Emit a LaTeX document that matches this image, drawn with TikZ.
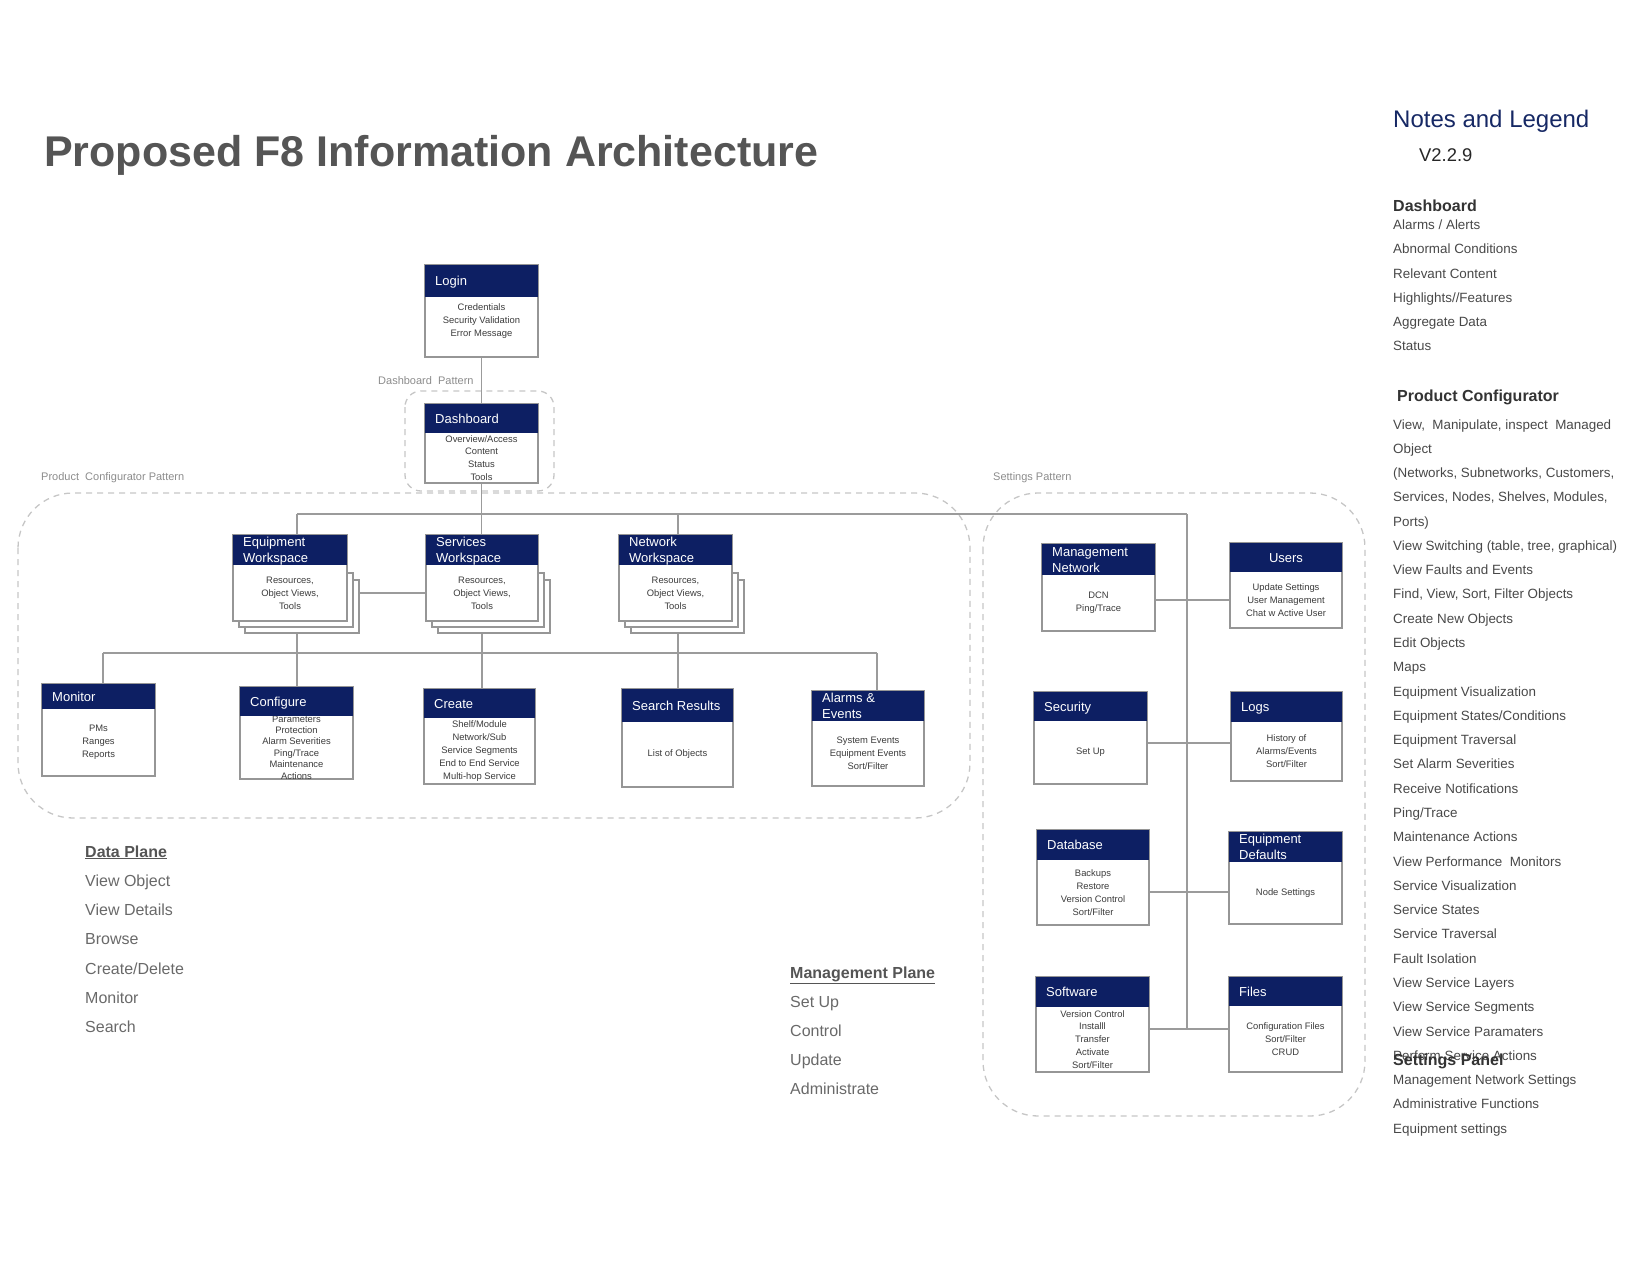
\documentclass[tikz,border=0pt]{standalone}
\usepackage{fontspec}
\setmainfont{Liberation Sans}
\usetikzlibrary{backgrounds}

\definecolor{navy}{RGB}{13,31,99}
\definecolor{boxgray}{RGB}{150,150,150}
\definecolor{conngray}{RGB}{155,155,155}
\definecolor{dashgray}{RGB}{198,198,198}
\definecolor{bodygray}{RGB}{60,60,60}
\definecolor{titlegray}{RGB}{85,85,85}
\definecolor{leggray}{RGB}{72,72,72}
\definecolor{planegray}{RGB}{105,105,105}
\definecolor{labelgray}{RGB}{140,140,140}
\definecolor{legblue}{RGB}{22,40,100}

\tikzset{
  cardframe/.style={draw=boxgray, line width=1.1pt, fill=white, inner sep=0pt, outer sep=0pt},
  headtext/.style={text=white, font=\fontsize{13}{16}\selectfont, inner sep=0pt, anchor=base west},
  bodybase/.style={text=bodygray, font=\fontsize{9.4}{12.9}\selectfont, align=center, inner sep=0pt},
  bodytext/.style={bodybase},
  conn/.style={draw=conngray, line width=1.1pt},
  patternframe/.style={draw=dashgray, line width=1.3pt, dash pattern=on 6pt off 5pt},
  patternlabel/.style={text=labelgray, font=\fontsize{11}{13}\selectfont, inner sep=0pt, anchor=base west},
  legitem/.style={text=leggray, font=\fontsize{13.4}{16}\selectfont, inner sep=0pt, anchor=base west},
  leghead/.style={text=black!80, font=\fontsize{16}{19}\bfseries\selectfont, inner sep=0pt, anchor=base west},
  planeitem/.style={text=planegray, font=\fontsize{16}{19}\selectfont, inner sep=0pt, anchor=base west},
  planehead/.style={text=titlegray, font=\fontsize{16}{19}\bfseries\selectfont, inner sep=0pt, anchor=base west},
}

% card: #1 name, #2 left, #3 top, #4 right, #5 header bottom, #6 bottom,
%       #7 first header line, #8 second header line, #9 body lines
\newcommand\card[9]{%
  \node[cardframe, minimum width={(#4)-(#2)}, minimum height={(#6)-(#3)}]
    (#1) at ({((#2)+(#4))/2},{((#3)+(#6))/2}) {};
  \node[bodytext] (#1-body) at ({((#2)+(#4))/2},{((#5)+(#6))/2}) {#9};
  \fill[navy] (#2,#3) rectangle (#4,#5);
  \ifx\relax#7\relax\else
    \ifx\relax#8\relax
      \node[headtext] (#1-t1) at ({(#2)+10},{((#3)+(#5))/2+4.6}) {#7};
    \else
      \node[headtext] (#1-t1) at ({(#2)+10},{((#3)+(#5))/2-3.4}) {#7};
      \node[headtext] (#1-t2) at ({(#2)+10},{((#3)+(#5))/2+12.6}) {#8};
    \fi
  \fi
}

% stacked sheets behind a workspace card: left, header bottom, right, bottom
\newcommand\sheets[4]{%
  \draw[cardframe] ({(#1)+12},{(#2)+15}) rectangle ({(#3)+12},{(#4)+12});
  \draw[cardframe] ({(#1)+6},{(#2)+8}) rectangle ({(#3)+6},{(#4)+6});
}

\begin{document}
\begin{tikzpicture}[x=1pt, y=-1pt]
\useasboundingbox (0,0) rectangle (1650,1275);

% ---------- title ----------
\node[text=titlegray, font=\fontsize{43}{50}\bfseries\selectfont, inner sep=0pt, anchor=base west]
  (title) at (44,166) {Proposed F8 Information Architecture};

% ---------- pattern labels ----------
\node[patternlabel] (lbl-dash) at (378,384) {Dashboard\ \ Pattern};
\node[patternlabel] (lbl-prod) at (41,480) {Product\ \ Configurator Pattern};
\node[patternlabel] (lbl-set) at (993,480) {Settings Pattern};

% ---------- cards ----------
\tikzset{bodytext/.style={bodybase, yshift=6pt}}
\card{login}{425}{265}{538}{297}{357}{Login}{}{Credentials\\Security Validation\\Error Message}
\tikzset{bodytext/.style={bodybase}}
\card{dash}{425}{404}{538}{433}{483}{Dashboard}{}{Overview/Access\\Content\\Status\\Tools}

\sheets{233}{565}{347}{621}
\card{eqws}{233}{535}{347}{565}{621}{Equipment}{Workspace}{Resources,\\Object Views,\\Tools}
\sheets{426}{565}{538}{621}
\card{svcws}{426}{535}{538}{565}{621}{Services}{Workspace}{Resources,\\Object Views,\\Tools}
\sheets{619}{565}{732}{621}
\card{netws}{619}{535}{732}{565}{621}{Network}{Workspace}{Resources,\\Object Views,\\Tools}

\card{monitor}{42}{684}{155}{709}{776}{Monitor}{}{PMs\\Ranges\\Reports}
\tikzset{bodytext/.style={bodybase, font=\fontsize{9.4}{11.4}\selectfont}}
\card{configure}{240}{687}{353}{716}{779}{Configure}{}{Parameters\\Protection\\Alarm Severities\\Ping/Trace\\Maintenance\\Actions}
\tikzset{bodytext/.style={bodybase}}
\card{create}{424}{689}{535}{718}{784}{Create}{}{Shelf/Module\\Network/Sub\\Service Segments\\End to End Service\\Multi-hop Service}
\card{search}{622}{689}{733}{722}{787}{Search Results}{}{List of Objects}
\card{alarms}{812}{691}{924}{721}{786}{Alarms \&}{Events}{System Events\\Equipment Events\\Sort/Filter}

\card{mgmt}{1042}{544}{1155}{575}{631}{Management}{Network}{DCN\\Ping/Trace}
\card{users}{1230}{543}{1342}{572}{628}{}{}{Update Settings\\User Management\\Chat w Active User}
\node[headtext, anchor=base] (users-t1) at (1286,562.1) {Users};
\card{security}{1034}{692}{1147}{721}{784}{Security}{}{Set Up}
\card{logs}{1231}{692}{1342}{722}{781}{Logs}{}{History of\\Alarms/Events\\Sort/Filter}
\card{database}{1037}{830}{1149}{860}{925}{Database}{}{Backups\\Restore\\Version Control\\Sort/Filter}
\card{eqdef}{1229}{832}{1342}{862}{924}{Equipment}{Defaults}{Node Settings}
\card{software}{1036}{977}{1149}{1007}{1072}{Software}{}{Version Control\\Installl\\Transfer\\Activate\\Sort/Filter}
\card{files}{1229}{977}{1342}{1006}{1072}{Files}{}{Configuration Files\\Sort/Filter\\CRUD}

% ---------- connectors and pattern frames ----------
\begin{pgfonlayer}{background}
  \draw[patternframe, rounded corners=16pt] (405,391) rectangle (554,491);
  \draw[patternframe, rounded corners=55pt] (18,493) rectangle (970,818);
  \draw[patternframe, rounded corners=55pt] (983,493) rectangle (1365,1116);

  \coordinate (busL) at (297,514);
  \coordinate (busR) at (1187,514);
  \coordinate (netTap) at (678,514);
  \coordinate (setEnd) at (1187,1029);
  \coordinate (lowL) at (103,653);
  \coordinate (lowR) at (877,653);
  \coordinate (eqsvcY) at (0,593);
  \coordinate (rowA) at (1187,600);
  \coordinate (rowB) at (1187,743);
  \coordinate (rowC) at (1187,892);

  \draw[conn] (login.south) -- (dash.north);
  \draw[conn] (dash.south) -- (dash.south |- svcws.north);
  \draw[conn] (busL) -- (busR);
  \draw[conn] (busL) -- (busL |- eqws.north);
  \draw[conn] (netTap) -- (netTap |- netws.north);
  \draw[conn] (busR) -- (setEnd);
  \draw[conn] (eqws.east |- eqsvcY) -- (svcws.west |- eqsvcY);

  \draw[conn] (lowL) -- (lowR);
  \draw[conn] (lowL) -- (lowL |- monitor.north);
  \draw[conn] (busL |- eqws.south) -- (busL |- configure.north);
  \draw[conn] (svcws.south) -- (svcws.south |- create.north);
  \draw[conn] (netTap |- netws.south) -- (netTap |- search.north);
  \draw[conn] (lowR) -- (lowR |- alarms.north);

  \draw[conn] (mgmt.east |- rowA) -- (users.west |- rowA);
  \draw[conn] (security.east |- rowB) -- (logs.west |- rowB);
  \draw[conn] (database.east |- rowC) -- (eqdef.west |- rowC);
  \draw[conn] (software.east |- setEnd) -- (files.west |- setEnd);
\end{pgfonlayer}

% ---------- data / management plane lists ----------
\node[planehead] (dp-head) at (85,857) {\underline{Data Plane}};
\foreach \t [count=\i from 1] in {View Object, View Details, Browse, Create/Delete, Monitor, Search}
  \node[planeitem] (dp-\i) at (85,{857+\i*29.3}) {\t};

\node[planehead] (mp-head) at (790,978) {\underline{Management Plane}};
\foreach \t [count=\i from 1] in {Set Up, Control, Update, Administrate}
  \node[planeitem] (mp-\i) at (790,{978+\i*29.2}) {\t};

% ---------- notes and legend ----------
\node[text=legblue, font=\fontsize{24}{28}\selectfont, inner sep=0pt, anchor=base west]
  (legend-title) at (1393,127) {Notes and Legend};
\node[text=black!85, font=\fontsize{18.4}{22}\selectfont, inner sep=0pt, anchor=base west]
  (legend-ver) at (1419,161) {V2.2.9};

\node[leghead] (lg-dash) at (1393,211) {Dashboard};
\foreach \t [count=\i from 0] in {Alarms / Alerts, Abnormal Conditions, Relevant Content,
    Highlights//Features, Aggregate Data, Status}
  \node[legitem] (lg-dash-\i) at (1393,{229.5+\i*24.28}) {\t};

\node[leghead] (lg-prod) at (1397,401) {Product Configurator};
\foreach \t [count=\i from 0] in {{View,\ \ Manipulate, inspect\ \ Managed}, Object,
    {(Networks, Subnetworks, Customers,}, {Services, Nodes, Shelves, Modules,}, Ports),
    {View Switching (table, tree, graphical)}, View Faults and Events,
    {Find, View, Sort, Filter Objects}, Create New Objects, Edit Objects, Maps,
    Equipment Visualization, Equipment States/Conditions, Equipment Traversal,
    Set Alarm Severities, Receive Notifications, Ping/Trace, Maintenance Actions,
    View Performance\ \ Monitors, Service Visualization, Service States, Service Traversal,
    Fault Isolation, View Service Layers, View Service Segments, View Service Paramaters,
    Perform Service Actions, Management Network Settings, Administrative Functions,
    Equipment settings}
  \node[legitem] (lg-prod-\i) at (1393,{429+\i*24.28}) {\t};

\node[leghead] (lg-set) at (1393,1065) {Settings Panel};

\end{tikzpicture}
\end{document}
